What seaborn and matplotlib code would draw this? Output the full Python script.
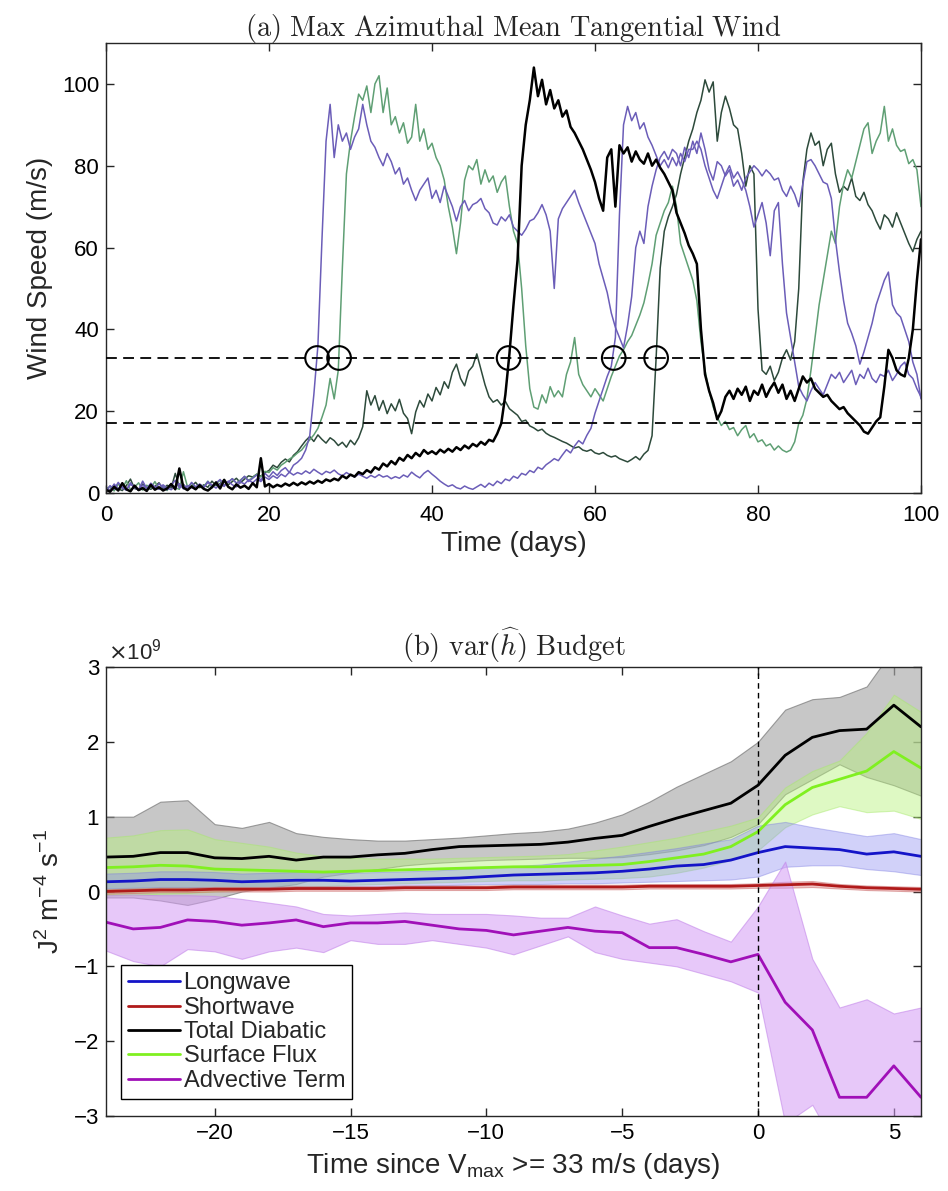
import numpy as np
import pandas as pd
import matplotlib
matplotlib.use("Agg")
import matplotlib.pyplot as plt
import seaborn as sns

# ---------------- Panel (a): max azimuthal-mean tangential wind (m/s), every 0.5 day from day 0
wind_purple_a = [
    0.5, 1.8, 0.9, 2.6, 1.2, 0.7, 2.1, 1.5, 0.8, 2.9, 1.1, 1.7, 0.9, 2.3, 1.4, 0.8, 1.9, 3.1, 1.2, 2.0,
    1.0, 2.6, 1.5, 2.2, 1.3, 2.8, 1.8, 2.4, 3.3, 1.9, 2.7, 3.5, 2.4, 3.0, 4.1, 2.8, 3.6, 4.4, 3.1, 4.8,
    3.9, 5.2, 4.3, 5.5, 6.2, 5.0, 6.8, 7.5, 8.5, 10.5, 14, 24, 36, 62, 86, 95, 82, 90, 86, 88,
    84, 87, 89, 95, 90, 86, 84.5, 82, 80, 83, 81, 78, 79.5, 75.5, 77, 74, 71.5, 74, 75.5, 77,
    72, 74, 71, 75, 72.5, 70, 66.5, 70, 71.5, 69, 70.5, 71, 72, 69.5, 68.5, 66, 65.5, 67.5, 66.5, 68,
    65, 64, 63, 64.5, 66.5, 67, 68.5, 70.5, 68, 64, 50, 67, 69.5, 71, 72.5, 74, 71, 68.5, 66, 63.5,
    61, 56, 52.5, 49, 44, 40.5, 38, 35.5, 41, 48, 60, 64, 61, 70, 75, 79, 82, 83.5, 81.5, 84,
    83, 80, 84.5, 82, 86, 83, 88, 84, 79, 76.5, 81, 80, 77.5, 79, 75, 76.5, 74, 77, 78.5, 80,
    79, 77.5, 79, 78, 76.5, 77, 74, 72.5, 75, 73, 70, 75.5, 81, 81.5, 80, 78, 76, 75.5, 72, 62,
    54, 47, 41.5, 39, 36, 31.5, 34.5, 38, 41.5, 46, 49, 52, 54, 46, 44, 43, 40, 37, 32, 29,
    23]

wind_purple_b = [
    1.2, 0.6, 2.2, 1.0, 1.6, 0.8, 2.5, 1.3, 0.7, 1.9, 1.1, 2.4, 1.5, 0.9, 2.0, 1.2, 0.8, 1.7, 2.3, 1.0,
    1.8, 1.3, 0.9, 2.1, 1.4, 2.6, 1.9, 1.2, 2.2, 1.6, 2.9, 2.0, 1.5, 2.7, 2.2, 3.2, 2.5, 3.4, 2.8, 3.9,
    3.3, 4.2, 3.6, 4.6, 4.0, 5.1, 4.4, 5.0, 4.6, 5.4, 4.8, 5.8, 5.1, 4.5, 5.3, 4.9, 5.6, 4.7, 4.2, 5.0,
    4.4, 3.9, 4.6, 4.1, 3.6, 4.3, 3.8, 4.5, 3.9, 4.2, 3.5, 4.0, 3.6, 4.4, 3.9, 5.1, 4.3, 3.7, 4.8, 5.5,
    4.6, 3.8, 2.9, 2.2, 1.6, 2.0, 1.3, 1.0, 1.7, 1.2, 0.9, 1.5, 2.1, 1.4, 2.4, 1.8, 2.9, 2.3, 3.4, 3.0,
    4.1, 3.6, 4.8, 4.4, 5.5, 5.0, 6.3, 5.8, 6.9, 7.6, 8.4, 7.9, 9.3, 10.6, 9.8, 11.5, 12.8, 12.0, 14.1, 15.8,
    19.5, 22.5, 25.5, 28.5, 31, 38, 68, 90, 94.5, 91, 93, 89, 90.5, 87, 85, 82.5, 80, 81.5, 79.5, 82,
    80, 83, 81, 84, 84, 86, 84, 80, 77, 74, 72, 75, 78, 80, 77, 78.5, 76.5, 74, 70, 65,
    68, 71, 66, 58, 69, 71, 56, 44, 38, 32, 26, 24, 22.5, 25, 27, 25.5, 24, 26.5, 29, 28,
    29.5, 27, 28.5, 30, 26.5, 29, 28, 30.5, 28, 27, 29, 28.5, 30, 27.5, 29, 31, 32, 29, 28, 25.5,
    23.5]

wind_black = [
    0.8, 0.3, 1.5, 0.6, 2.4, 0.9, 0.4, 1.8, 0.7, 1.2, 0.5, 2.0, 0.8, 1.4, 0.6, 1.1, 2.2, 0.9, 6.0, 1.3,
    0.7, 1.6, 0.9, 1.9, 1.0, 0.6, 1.4, 2.6, 1.1, 3.2, 1.5, 0.9, 2.1, 1.3, 1.8, 1.0, 2.4, 1.4, 8.5, 1.6,
    2.2, 1.4, 2.0, 1.6, 2.3, 1.8, 2.5, 1.9, 2.6, 2.1, 2.8, 2.3, 3.0, 2.5, 3.3, 2.9, 3.5, 3.1, 4.2, 3.6,
    4.5, 4.0, 5.1, 4.6, 5.6, 5.0, 6.3, 5.7, 7.2, 6.5, 7.8, 7.0, 8.6, 7.9, 9.3, 8.5, 9.8, 9.0, 10.5, 9.6,
    10.2, 9.5, 10.6, 9.9, 10.8, 10.1, 11.2, 10.5, 11.6, 10.9, 12.0, 11.4, 12.5, 11.8, 13.0, 12.6, 14.5, 17, 24, 34,
    46, 57, 80, 90, 96, 104, 97, 101, 95, 98.5, 94, 96, 92, 93.5, 89.5, 88, 86, 84, 81.5, 79,
    76, 72, 69, 82, 84, 70, 85, 83, 84.5, 81, 83.5, 81.5, 80.5, 83, 80, 81.5, 79.5, 78, 76, 74,
    68.5, 66, 63.5, 60.5, 58.5, 56, 40, 29, 25, 22, 18, 20, 23.5, 25, 23, 25.5, 24, 26, 22.5, 25,
    24, 26.5, 23.5, 25.5, 27, 24.5, 26.5, 23, 25, 22.5, 25.5, 28.5, 27, 28, 25.5, 24.5, 23.5, 24, 22.5, 21.5,
    20.5, 21, 19.5, 18.5, 17.5, 16.5, 15, 14.5, 16, 17.5, 18.5, 26, 35, 33, 30, 29, 28.5, 33, 40, 52,
    62]

wind_green = [
    0.9, 1.6, 0.5, 2.2, 1.1, 3.0, 0.8, 1.4, 2.5, 0.7, 1.9, 1.2, 2.8, 1.0, 1.7, 0.6, 2.3, 1.3, 0.9, 5.2,
    1.5, 2.4, 1.1, 2.0, 1.6, 2.9, 1.3, 2.2, 3.1, 1.8, 2.6, 3.5, 2.4, 3.2, 4.0, 3.1, 3.8, 4.6, 3.9, 5.3,
    5.0, 6.2, 5.6, 6.8, 7.5, 8.3, 8.9, 9.8, 10.5, 11.8, 13.0, 14.2, 15.8, 18.5, 21.5, 28, 23, 30, 55, 78,
    86, 92, 97.5, 96, 99.5, 93, 100, 102, 93, 99, 90, 92, 88, 90.5, 85.5, 87, 95, 86, 89, 84,
    85.5, 82, 80, 76.5, 70, 65, 58.5, 66, 76.5, 80, 79, 81.5, 75.5, 79, 76, 77.5, 73.5, 76, 77.5, 70,
    64, 61, 50, 36, 25.5, 21, 20.5, 24, 22, 26, 23.5, 25, 23.5, 29, 32, 38, 29, 26.5, 25, 23.5,
    25.5, 24, 22.5, 25.5, 28.5, 31, 33.5, 35, 37, 38.5, 41, 43.5, 46.5, 51, 56, 63, 66, 69, 71, 75,
    70, 61, 58, 55, 52, 47, 37, 30, 25, 21, 18.5, 16.5, 17.5, 15.5, 16, 14, 15.5, 16.5, 13.5, 14.5,
    12.5, 13, 11.5, 12, 10.5, 11.5, 10.5, 10, 10.5, 12.5, 17, 19, 23, 30, 38, 46, 52, 58, 64, 61,
    70, 75.5, 79, 77, 81, 85, 89, 90.5, 83, 86, 88, 94.5, 86, 89, 85, 83.5, 84, 80.5, 81.5, 79,
    70]

wind_darkgreen = [
    1.4, 0.7, 2.0, 1.0, 0.6, 1.8, 3.4, 1.1, 0.8, 2.2, 1.3, 0.9, 1.6, 2.5, 1.0, 1.9, 1.2, 4.8, 1.5, 2.1,
    0.9, 1.7, 2.6, 1.3, 2.0, 1.4, 2.9, 1.8, 2.3, 3.3, 2.0, 2.8, 3.6, 2.5, 3.4, 4.2, 3.9, 4.6, 4.1, 5.0,
    5.5, 6.8, 6.2, 7.5, 8.3, 7.6, 9.2, 10.1, 11.5, 12.8, 13.8, 12.6, 14.2, 13.1, 12.2, 13.5, 12.8, 11.6, 12.4, 11.2,
    12.9, 11.8, 13.5, 16.2, 25.0, 21.5, 23.8, 20.2, 22.6, 19.4, 21.8, 20.1, 22.9, 19.5, 18.2, 14.5, 19.8, 22.6, 21.0, 24.2,
    22.5, 25.8, 24.0, 27.2, 25.6, 29.5, 31.5, 28.0, 26.2, 29.8, 31.0, 34.0, 30.2, 26.5, 23.5, 22.2, 22.8, 21.5, 22.4, 20.6,
    19.8, 19.0, 17.5, 17.8, 16.4, 15.9, 15.2, 15.6, 14.6, 14.0, 13.6, 13.1, 12.6, 12.2, 11.6, 11.0, 11.3, 10.5, 10.2, 10.6,
    9.8, 9.5, 9.9, 9.2, 8.8, 9.1, 8.4, 8.0, 7.6, 8.2, 8.9, 8.1, 9.5, 10.4, 14.0, 33, 55, 64, 67.5, 70,
    73, 78, 82, 86, 89, 93, 96, 101, 98, 100.5, 86, 93, 97, 94, 90, 89, 83, 75, 80, 78,
    45, 30, 29, 31, 27.5, 29.5, 33, 35, 32.5, 37, 50, 76, 84, 88, 85, 86, 80, 84, 85.5, 78,
    73.5, 75, 74, 77, 72.5, 71.5, 73.5, 70.5, 69, 66.5, 64.5, 68, 67, 65, 68.5, 66, 63.5, 61, 59, 62,
    64]

genesis_days = [25.9, 28.6, 49.4, 62.3, 67.5]
genesis_speed = [33, 33, 33, 33, 33]
threshold_levels = [33, 17]

# ---------------- Panel (b): var(h) budget terms (units of 1e9 J^2 m^-4 s^-1)
lag_days = list(range(-24, 7))
longwave = [0.13, 0.14, 0.16, 0.16, 0.15, 0.13, 0.14, 0.15, 0.15, 0.14, 0.15, 0.16, 0.17, 0.18, 0.2,
            0.22, 0.23, 0.24, 0.25, 0.27, 0.3, 0.34, 0.36, 0.42, 0.52, 0.6, 0.58, 0.56, 0.5, 0.53, 0.47]
longwave_lo = [0.04, 0.05, 0.06, 0.06, 0.05, 0.04, 0.05, 0.06, 0.06, 0.05, 0.06, 0.07, 0.08, 0.09, 0.1,
               0.1, 0.1, 0.11, 0.11, 0.12, 0.13, 0.14, 0.15, 0.16, 0.2, 0.33, 0.35, 0.35, 0.3, 0.27, 0.22]
longwave_hi = [0.24, 0.25, 0.27, 0.27, 0.26, 0.24, 0.25, 0.26, 0.26, 0.25, 0.26, 0.27, 0.28, 0.3, 0.32,
               0.34, 0.36, 0.4, 0.44, 0.48, 0.53, 0.58, 0.64, 0.7, 0.88, 0.93, 0.86, 0.8, 0.74, 0.78, 0.7]
shortwave = [0.0, 0.01, 0.02, 0.02, 0.03, 0.03, 0.03, 0.04, 0.04, 0.04, 0.04, 0.05, 0.05, 0.05, 0.05,
             0.06, 0.06, 0.06, 0.06, 0.06, 0.07, 0.07, 0.07, 0.07, 0.08, 0.09, 0.1, 0.07, 0.05, 0.04, 0.03]
shortwave_lo = [-0.03, -0.02, -0.01, -0.01, 0.0, 0.0, 0.0, 0.01, 0.01, 0.01, 0.01, 0.02, 0.02, 0.02, 0.02,
                0.03, 0.03, 0.03, 0.03, 0.03, 0.04, 0.04, 0.04, 0.04, 0.05, 0.05, 0.06, 0.04, 0.02, 0.01, 0.0]
shortwave_hi = [0.03, 0.04, 0.05, 0.05, 0.06, 0.06, 0.06, 0.07, 0.07, 0.07, 0.07, 0.08, 0.08, 0.08, 0.08,
                0.09, 0.09, 0.09, 0.09, 0.09, 0.1, 0.1, 0.1, 0.1, 0.11, 0.13, 0.14, 0.1, 0.08, 0.07, 0.06]
total_diabatic = [0.46, 0.47, 0.52, 0.52, 0.45, 0.44, 0.47, 0.42, 0.46, 0.46, 0.49, 0.51, 0.56, 0.6, 0.61,
                  0.62, 0.63, 0.66, 0.71, 0.75, 0.87, 0.98, 1.08, 1.18, 1.42, 1.82, 2.06, 2.15, 2.17, 2.49, 2.2]
total_lo = [-0.08, -0.08, -0.12, -0.18, -0.1, 0.0, 0.05, 0.1, 0.2, 0.25, 0.3, 0.35, 0.38, 0.4, 0.42,
            0.43, 0.44, 0.45, 0.45, 0.46, 0.5, 0.55, 0.62, 0.73, 0.9, 1.3, 1.5, 1.7, 1.53, 1.42, 1.28]
total_hi = [1.0, 1.0, 1.2, 1.22, 0.9, 0.85, 0.93, 0.78, 0.73, 0.7, 0.68, 0.68, 0.7, 0.72, 0.75,
            0.78, 0.8, 0.84, 0.92, 1.03, 1.2, 1.4, 1.57, 1.74, 2.0, 2.43, 2.57, 2.6, 2.74, 3.25, 3.2]
surface_flux = [0.32, 0.33, 0.35, 0.34, 0.3, 0.29, 0.28, 0.27, 0.26, 0.27, 0.28, 0.29, 0.3, 0.31, 0.32,
                0.33, 0.33, 0.34, 0.35, 0.36, 0.4, 0.45, 0.5, 0.6, 0.8, 1.16, 1.39, 1.5, 1.61, 1.87, 1.65]
surface_lo = [-0.05, -0.05, -0.03, -0.02, 0.0, 0.02, 0.04, 0.05, 0.07, 0.09, 0.1, 0.11, 0.12, 0.13, 0.14,
              0.15, 0.15, 0.16, 0.17, 0.18, 0.2, 0.25, 0.32, 0.42, 0.55, 0.86, 1.03, 1.14, 1.06, 1.08, 0.97]
surface_hi = [0.72, 0.75, 0.82, 0.83, 0.7, 0.65, 0.6, 0.52, 0.47, 0.45, 0.44, 0.44, 0.44, 0.45, 0.46,
              0.47, 0.48, 0.5, 0.55, 0.6, 0.66, 0.72, 0.8, 0.88, 0.99, 1.39, 1.61, 1.75, 2.12, 2.63, 2.4]
advective = [-0.41, -0.5, -0.48, -0.38, -0.4, -0.45, -0.42, -0.38, -0.47, -0.42, -0.42, -0.4, -0.45, -0.5, -0.52,
             -0.58, -0.53, -0.48, -0.53, -0.55, -0.75, -0.75, -0.84, -0.94, -0.84, -1.48, -1.85, -2.75, -2.75, -2.33, -2.75]
advective_lo = [-0.79, -0.93, -1.0, -0.77, -0.8, -0.9, -0.8, -0.75, -0.81, -0.65, -0.7, -0.7, -0.65, -0.7, -0.75,
                -0.84, -0.72, -0.6, -0.81, -0.9, -0.95, -1.0, -1.1, -1.2, -1.35, -3.1, -2.85, -3.5, -3.6, -3.6, -3.5]
advective_hi = [-0.05, -0.04, -0.05, -0.05, -0.06, -0.1, -0.15, -0.2, -0.3, -0.32, -0.3, -0.28, -0.3, -0.3, -0.3,
                -0.32, -0.35, -0.35, -0.2, -0.32, -0.43, -0.37, -0.53, -0.67, -0.2, 0.4, -0.9, -1.55, -1.44, -1.63, -1.55]

# ---------------- style
sns.set_theme(style="ticks")
plt.rcParams["font.family"] = ["Liberation Sans", "DejaVu Sans"]
plt.rcParams["axes.edgecolor"] = "#262626"
plt.rcParams["axes.linewidth"] = 1.0

W, H = 948, 1191
fig = plt.figure(figsize=(W / 100, H / 100), dpi=100)
ax1 = fig.add_axes([106 / W, 1 - 493 / H, (921 - 106) / W, (493 - 43) / H])
ax2 = fig.add_axes([106 / W, 1 - 1116 / H, (921 - 106) / W, (1116 - 667) / H])

TICK = 16
LABEL = 20

# ---------------- panel (a)
series = [
    (wind_darkgreen, "#2d4a3b", 1.1),
    (wind_green, "#5f9f74", 1.1),
    (wind_purple_a, "#6b5db8", 1.1),
    (wind_purple_b, "#6b5db8", 1.1),
    (wind_black, "black", 1.8),
]
for vals, col, lw in series:
    x = 0.5 * np.arange(len(vals))
    sns.lineplot(x=x, y=np.asarray(vals, float), ax=ax1, color=col, lw=lw,
                 estimator=None, sort=False)

for lev in threshold_levels:
    ax1.axhline(lev, color="black", lw=1.3, ls=(0, (6, 3.5)), zorder=4)

sns.scatterplot(x=genesis_days, y=genesis_speed, ax=ax1, s=290, marker="o",
                facecolors="none", edgecolor="black", linewidth=1.5, zorder=6)

ax1.set_xlim(0, 100)
ax1.set_ylim(0, 110)
ax1.set_xticks([0, 20, 40, 60, 80, 100])
ax1.set_yticks([0, 20, 40, 60, 80, 100])
ax1.set_xlabel("Time (days)", fontsize=LABEL, labelpad=4)
ax1.set_ylabel("Wind Speed (m/s)", fontsize=LABEL, labelpad=6)
ax1.set_title(r"$\mathrm{(a)\ Max\ Azimuthal\ Mean\ Tangential\ Wind}$",
              fontsize=20.5, math_fontfamily="cm", pad=5)

# ---------------- panel (b)
d = np.asarray(lag_days, float)
band_specs = [
    (total_lo, total_hi, "#a9a9a9", 0.65, "#6f6f6f"),
    (surface_lo, surface_hi, "#b6f27a", 0.45, "#a6e86a"),
    (longwave_lo, longwave_hi, "#8c8cf0", 0.4, "#7a7ae0"),
    (shortwave_lo, shortwave_hi, "#e08a8a", 0.5, "#c86464"),
    (advective_lo, advective_hi, "#d49cf5", 0.55, "#c080e8"),
]
for lo, hi, fc, a, ec in band_specs:
    ax2.fill_between(d, lo, hi, facecolor=fc, alpha=a, edgecolor=ec, lw=0.8)

line_specs = [
    ("Longwave", longwave, "#1414c8"),
    ("Shortwave", shortwave, "#b01a1a"),
    ("Total Diabatic", total_diabatic, "black"),
    ("Surface Flux", surface_flux, "#80f020"),
    ("Advective Term", advective, "#a010b8"),
]
for name, vals, col in line_specs:
    sns.lineplot(x=d, y=np.asarray(vals, float), ax=ax2, color=col, lw=2.0,
                 label=name, estimator=None, sort=False)

ax2.axvline(0, color="black", lw=1.0, ls=(0, (4, 3)), zorder=5)
ax2.set_xlim(-24, 6)
ax2.set_ylim(-3, 3)
ax2.set_xticks([-20, -15, -10, -5, 0, 5])
ax2.set_yticks([-3, -2, -1, 0, 1, 2, 3])
ax2.set_xlabel(r"Time since V$_{\mathregular{max}}$ >= 33 m/s (days)", fontsize=LABEL, labelpad=5)
ax2.set_ylabel(r"J$^{\mathregular{2}}$ m$^{\mathregular{-4}}$ s$^{\mathregular{-1}}$", fontsize=LABEL, labelpad=6)
ax2.set_title(r"$\mathrm{(b)\ var}(\widehat{h})\ \mathrm{Budget}$",
              fontsize=20.5, math_fontfamily="cm", pad=8)
ax2.text(0.003, 1.006, r"$\times$10$^{\mathregular{9}}$", transform=ax2.transAxes,
         fontsize=16, ha="left", va="bottom")

leg = ax2.legend(loc="lower left", bbox_to_anchor=(0.0184, 0.038), fontsize=17,
                 frameon=True, fancybox=False, framealpha=1, edgecolor="black",
                 handlelength=2.2, handletextpad=0.15, labelspacing=0.1,
                 borderpad=0.3, borderaxespad=0.0)
leg.get_frame().set_linewidth(1.0)

for ax, pad in ((ax1, 8.5), (ax2, 5)):
    ax.tick_params(direction="in", length=6, width=1, labelsize=TICK,
                   top=True, right=True, pad=pad, colors="#262626", labelcolor="black")
    ax.tick_params(axis="y", pad=5)
    for sp in ax.spines.values():
        sp.set_visible(True)
        sp.set_color("#262626")

fig.savefig("out.png", dpi=100)
